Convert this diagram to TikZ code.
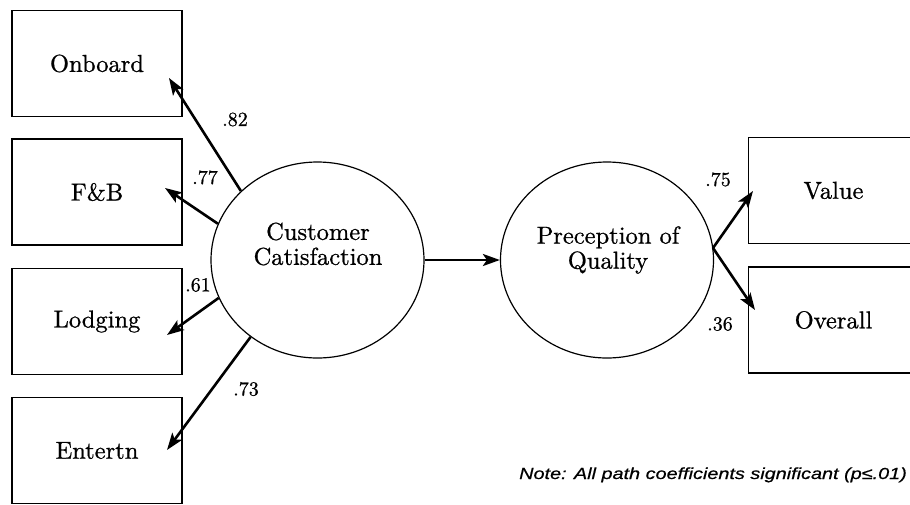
\documentclass[tikz,border=0pt]{standalone}
\usepackage{fontspec}
\usetikzlibrary{shapes.geometric,arrows.meta}
\newfontfamily\notefont[FakeStretch=1.24,FakeBold=0.6]{Liberation Sans}
\newfontfamily\schfont[FakeBold=0.8]{lmroman10-regular.otf}
\begin{document}
\begin{tikzpicture}[x=1pt,y=-1pt,
  box/.style={draw,line width=1.3pt,minimum width=170pt,minimum height=106pt,inner sep=0pt,
    font=\schfont\fontsize{24.5}{24}\selectfont},
  construct/.style={draw,ellipse,line width=1.2pt,minimum width=213pt,minimum height=196pt,inner sep=0pt},
  ctext/.style={align=center,font=\schfont\fontsize{24.5}{25}\selectfont,inner sep=0pt},
  coef/.style={font=\schfont\fontsize{20}{20}\selectfont,inner sep=0pt},
  path arrow/.style={line width=2.6pt,-{Stealth[length=17pt,width=12pt,inset=4pt]}}
]
\useasboundingbox[fill=white] (0,0) rectangle (910,504);
% indicator boxes
\node[box] (onboard) at (97,63.5) {Onboard};
\node[box] (fb) at (97,192) {F\&B};
\node[box] (lodging) at (97,321.5) {Lodging};
\node[box] (entertn) at (97,450.5) {Entertn};
\node[box] (value) at (833.5,190.5) {Value};
\node[box] (overall) at (833.5,320) {Overall};
% constructs
\node[construct] (cs) at (317.5,260) {};
\node[construct] (pq) at (607,260) {};
\node[ctext] (cstext) at (318,244) {Customer\\Catisfaction};
\node[ctext] (pqtext) at (608,250) {Preception of\\Quality};
% arrow tips
\coordinate (tonboard) at (169,78);
\coordinate (tfb) at (165,188);
\coordinate (tlodging) at (167,335);
\coordinate (tentertn) at (167,450);
\coordinate (tvalue) at (753,191);
\coordinate (toverall) at (755,310);
\coordinate (pqout) at (713,248);
% paths
\draw[path arrow] (cs.138.9) -- (tonboard);
\draw[path arrow] (cs.160.2) -- (tfb);
\draw[path arrow] (cs.201.1) -- (tlodging);
\draw[path arrow] (cs.229) -- (tentertn);
\draw[path arrow] (cs.east) -- (pq.west);
\draw[path arrow] (pqout) -- (tvalue);
\draw[path arrow] (pqout) -- (toverall);
% coefficients
\node[coef] (c82) at (235,119.5) {.82};
\node[coef] (c77) at (205,177.5) {.77};
\node[coef] (c61) at (198,285) {.61};
\node[coef] (c73) at (246,389) {.73};
\node[coef] (c75) at (718,179.5) {.75};
\node[coef] (c36) at (720,324) {.36};
% note
\node[anchor=base west,inner sep=0pt,font=\notefont\itshape\fontsize{16}{18}\selectfont] (note) at (519,479) {Note: All path coefficients significant (p≤.01)};
\end{tikzpicture}
\end{document}
